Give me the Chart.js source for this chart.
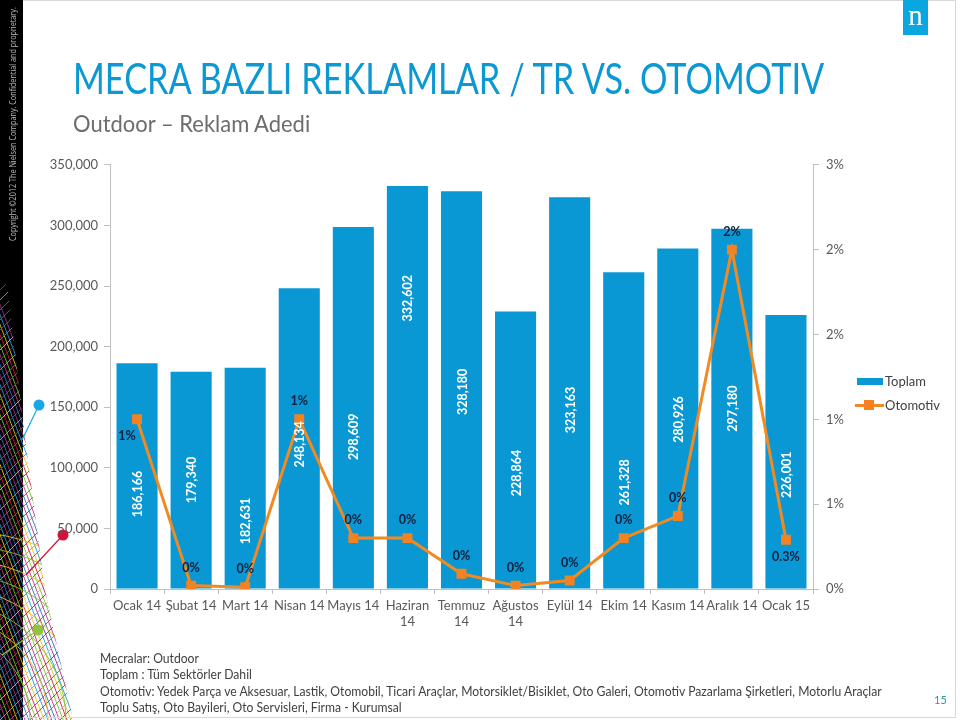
<!DOCTYPE html>
<html>
<head>
<meta charset="utf-8">
<script src="https://cdn.jsdelivr.net/npm/chart.js@4.4.1/dist/chart.umd.min.js"></script>
<style>
  html, body { margin: 0; padding: 0; background: #fff; }
  body { width: 960px; height: 720px; position: relative; overflow: hidden; font-family: Lato, "Open Sans", sans-serif; }
  #frame { position: absolute; left: 23px; top: 0; width: 933px; height: 718px; border-top: 1px solid #d9d9d9; border-right: 1px solid #d9d9d9; border-bottom: 1px solid #d9d9d9; box-sizing: border-box; }
  #deco { position: absolute; left: 0; top: 0; }
  #copy { position: absolute; left: 6px; top: 241px; transform-origin: 0 0; color: #b8b8b8; font-size: 9px; white-space: nowrap; font-family: "Open Sans", sans-serif; }
  #logo { position: absolute; left: 903px; top: 0; width: 25px; height: 35px; background: #0aa6df; color: #fff; font-family: "Liberation Serif", "DejaVu Serif", serif; font-size: 29px; line-height: 30px; text-align: center; }
  .fit { position: absolute; white-space: nowrap; transform-origin: 0 0; }
  #title { left: 73px; top: 53px; color: #0c98d3; font-size: 42px; }
  #subtitle { left: 73px; top: 108px; color: #6d6d6d; font-size: 24px; }
  #chartbox { position: absolute; left: 0; top: 150px; }
  #legend { position: absolute; left: 855px; top: 372px; font-size: 13px; color: #404040; }
  .lg { position: relative; height: 24px; }
  .lg .sw { position: absolute; left: 2px; top: 6px; width: 26px; height: 7px; background: #0a98d4; }
  .lg .ln { position: absolute; left: 0; top: 8px; width: 29px; height: 3px; background: #f28a22; }
  .lg .sq { position: absolute; left: 9px; top: 4px; width: 10px; height: 10px; background: #f58220; }
  .lg .tx { position: absolute; left: 30px; top: 1px; white-space: nowrap; }
  #notes { left: 100px; top: 650px; font-size: 12.8px; color: #404040; line-height: 16.3px; }
  #page { position: absolute; left: 934px; top: 693px; font-size: 11px; color: #2a9a9c; }
</style>
</head>
<body>
<canvas id="deco" width="110" height="720"></canvas>
<div id="frame"></div>
<div id="copy">Copyright ©2012 The Nielsen Company. Confidential and proprietary.</div>
<div id="logo">n</div>
<div id="title" class="fit">MECRA BAZLI REKLAMLAR / TR VS. OTOMOTIV</div>
<div id="subtitle" class="fit">Outdoor – Reklam Adedi</div>
<div id="chartbox"><canvas id="c" width="860" height="490"></canvas></div>
<div id="legend">
  <div class="lg"><div class="sw"></div><div class="tx">Toplam</div></div>
  <div class="lg"><div class="ln"></div><div class="sq"></div><div class="tx">Otomotiv</div></div>
</div>
<div id="notes" class="fit">
  <div>Mecralar: Outdoor</div>
  <div>Toplam : Tüm Sektörler Dahil</div>
  <div>Otomotiv: Yedek Parça ve Aksesuar, Lastik, Otomobil, Ticari Araçlar, Motorsiklet/Bisiklet, Oto Galeri, Otomotiv Pazarlama Şirketleri, Motorlu Araçlar</div>
  <div>Toplu Satış, Oto Bayileri, Oto Servisleri, Firma - Kurumsal</div>
</div>
<div id="page">15</div>
<script>
// ---- data ----
const categories = ['Ocak 14','Şubat 14','Mart 14','Nisan 14','Mayıs 14','Haziran 14','Temmuz 14','Ağustos 14','Eylül 14','Ekim 14','Kasım 14','Aralık 14','Ocak 15'];
const toplam = [186166,179340,182631,248134,298609,332602,328180,228864,323163,261328,280926,297180,226001];
const otomotiv = [0.0100,0.0002,0.0001,0.0100,0.0030,0.0030,0.0009,0.0002,0.0005,0.0030,0.0043,0.0200,0.0029];
const otomotivLabels = ['1%','0%','0%','1%','0%','0%','0%','0%','0%','0%','0%','2%','0.3%'];
const leftTicks = [0,50000,100000,150000,200000,250000,300000,350000];
const rightTickLabels = ['0%','1%','1%','2%','2%','3%'];

// ---- layout / style (not data) ----
const barLabelNudge = [18,0,43,6,29,-89,2,23,17,52,1,0,23];
const belowLabel = [true,false,false,false,false,false,false,false,false,false,false,false,true];
const FONT = 'Lato, "Open Sans", sans-serif';
const GRAY = '#595959';
const AXIS = '#bfbfbf';

// fit text blocks to the widths seen in the original slide
function fitWidth(id, w, extra) {
  const el = document.getElementById(id);
  const s = w / el.scrollWidth;
  el.style.transform = (extra || '') + ' scaleX(' + s + ')';
}
fitWidth('title', 751);
fitWidth('subtitle', 237);
fitWidth('notes', 782);
(function(){
  const el = document.getElementById('copy');
  const s = 234 / el.scrollWidth;
  el.style.transform = 'rotate(-90deg) scaleX(' + s + ')';
})();

// decorative left strip
(function(){
  const d = document.getElementById('deco').getContext('2d');
  d.fillStyle = '#000'; d.fillRect(0,0,23,720);
  d.save();
  d.beginPath();
  d.moveTo(0,270); d.lineTo(8,290); d.lineTo(24,430); d.lineTo(45,590); d.lineTo(73,720); d.lineTo(0,720); d.closePath();
  d.clip();
  const cols = ['#9b2d8e','#1e9bd7','#e8c21a','#d6163a','#7bbf2a','#c2338f','#2f6fc0'];
  d.lineWidth = 0.9;
  for (let i = 0; i < 60; i++) {
    d.strokeStyle = cols[i % cols.length];
    d.beginPath(); d.moveTo(-40, 200 + i*10); d.lineTo(90, 420 + i*10 + 120); d.stroke();
    d.strokeStyle = cols[(i+3) % cols.length];
    d.beginPath(); d.moveTo(90, 200 + i*10); d.lineTo(-40, 330 + i*10); d.stroke();
  }
  for (let i = 0; i < 8; i++) {
    d.strokeStyle = i % 2 ? '#e8c21a' : '#7bbf2a';
    d.beginPath(); d.arc(-60 + i*4, 720, 90 + i*14, -Math.PI/2, 0); d.stroke();
  }
  d.restore();
  const dots = [[39,405,22,440,'#18a7e6'],[63,535,26,575,'#d4123a'],[38,630,2,655,'#8cc63f']];
  dots.forEach(([x,y,x2,y2,c]) => {
    d.strokeStyle = c; d.lineWidth = 1.2;
    d.beginPath(); d.moveTo(x,y); d.lineTo(x2,y2); d.stroke();
    d.fillStyle = c; d.beginPath(); d.arc(x,y,5.5,0,Math.PI*2); d.fill();
  });
})();

// label wrapping like the original (wrap when wider than the category)
const mctx = document.createElement('canvas').getContext('2d');
mctx.font = '13px ' + FONT;
function wrapLabel(s, maxW) {
  if (mctx.measureText(s).width <= maxW) return s;
  const i = s.lastIndexOf(' ');
  return [s.slice(0,i), s.slice(i+1)];
}

const labelPlugin = {
  id: 'labels',
  afterDatasetsDraw(chart) {
    const ctx = chart.ctx;
    const bm = chart.getDatasetMeta(0);
    ctx.save();
    ctx.fillStyle = '#ffffff';
    ctx.font = 'bold 12.5px ' + FONT;
    ctx.textAlign = 'center'; ctx.textBaseline = 'middle';
    bm.data.forEach((bar, i) => {
      const cy = (bar.y + bar.base) / 2 + barLabelNudge[i];
      ctx.save();
      ctx.translate(bar.x + 1, cy);
      ctx.rotate(-Math.PI/2);
      ctx.fillText(toplam[i].toLocaleString('en-US'), 0, 0);
      ctx.restore();
    });
    ctx.restore();
  },
  afterDraw(chart) {
    const ctx = chart.ctx;
    const lm = chart.getDatasetMeta(1);
    ctx.save();
    ctx.fillStyle = '#0f1f3d';
    ctx.font = 'bold 12.5px ' + FONT;
    ctx.textAlign = 'center'; ctx.textBaseline = 'middle';
    lm.data.forEach((p, i) => {
      let x = p.x, y = belowLabel[i] ? p.y + 17 : p.y - 18;
      if (i === 0) x -= 10;
      ctx.fillText(otomotivLabels[i], x, y);
    });
    ctx.restore();
  }
};

new Chart(document.getElementById('c'), {
  type: 'bar',
  data: {
    labels: categories,
    datasets: [
      { type: 'bar', label: 'Toplam', data: toplam, backgroundColor: '#0a98d4', borderWidth: 0,
        barPercentage: 0.76, categoryPercentage: 1.0, yAxisID: 'y', order: 2 },
      { type: 'line', label: 'Otomotiv', data: otomotiv, borderColor: '#f28a22', backgroundColor: '#f58220',
        borderWidth: 3, tension: 0, pointStyle: 'rect', pointRadius: 7, pointHoverRadius: 7,
        pointBorderWidth: 0, yAxisID: 'y1', order: 1 }
    ]
  },
  options: {
    responsive: false,
    animation: false,
    devicePixelRatio: 1,
    layout: { padding: { top: 11, left: 0, right: 0, bottom: 0 } },
    plugins: { legend: { display: false }, tooltip: { enabled: false } },
    scales: {
      x: {
        offset: true,
        grid: { display: true, drawOnChartArea: false, drawTicks: true, tickLength: 5, color: AXIS, offset: true },
        border: { display: true, color: AXIS, width: 1 },
        ticks: { color: GRAY, font: { family: FONT, size: 13 }, padding: 4, maxRotation: 0, autoSkip: false,
          callback: function(v, i) { return wrapLabel(categories[i], 54); } },
        afterFit: s => { s.height = 51; }
      },
      y: {
        position: 'left', min: 0, max: 350000,
        afterBuildTicks: s => { s.ticks = leftTicks.map(v => ({ value: v })); },
        grid: { display: true, drawOnChartArea: false, drawTicks: true, tickLength: 6, color: AXIS },
        border: { display: true, color: AXIS, width: 1 },
        ticks: { color: GRAY, font: { family: FONT, size: 13 }, padding: 6,
          callback: v => v.toLocaleString('en-US') },
        afterFit: s => { s.width = 110; }
      },
      y1: {
        position: 'right', min: 0, max: 0.025,
        ticks: { stepSize: 0.005, color: GRAY, font: { family: FONT, size: 13 }, padding: 7,
          callback: (v, i) => rightTickLabels[i] },
        grid: { display: true, drawOnChartArea: false, drawTicks: true, tickLength: 6, color: AXIS },
        border: { display: true, color: AXIS, width: 1 },
        afterFit: s => { s.width = 47; }
      }
    }
  },
  plugins: [labelPlugin]
});
</script>
</body>
</html>
